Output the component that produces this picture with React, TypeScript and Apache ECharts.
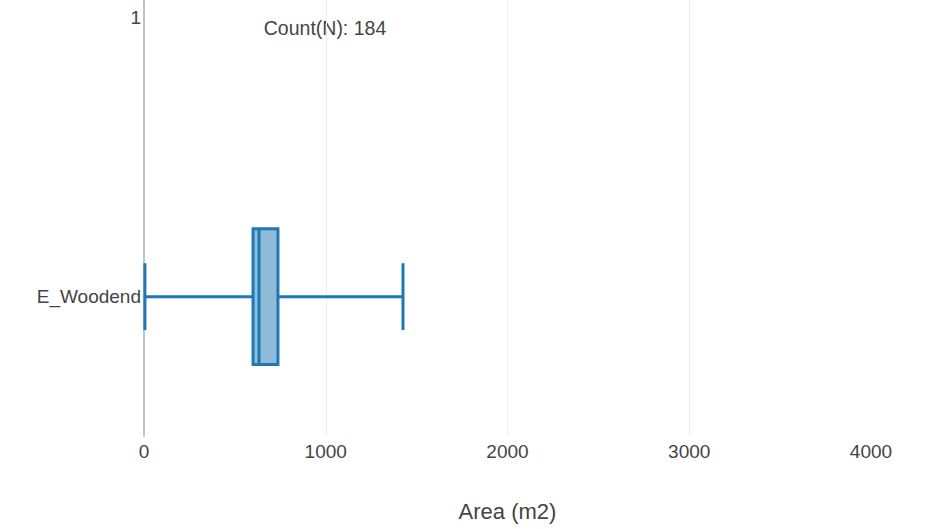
import React, { useEffect, useRef } from "react";
import * as echarts from "echarts";

const categories = ["E_Woodend", "1"];
// [min, Q1, median, Q3, max]
const boxStats = [[5, 600, 633, 737, 1425]];
const xTicks = [0, 1000, 2000, 3000, 4000];
const countLabel = "Count(N): 184";
const xTitle = "Area (m2)";

export default function App() {
  const ref = useRef<HTMLDivElement>(null);
  useEffect(() => {
    const chart = echarts.init(ref.current!, null, { renderer: "svg" });
    const stroke = "#1f77b4";
    const font = "Liberation Sans, Arial, sans-serif";
    chart.setOption({
      animation: false,
      backgroundColor: "#fff",
      textStyle: { fontFamily: font },
      grid: { left: 144, right: 60, top: 0, bottom: 93, containLabel: false, outerBoundsMode: "none" },
      xAxis: {
        type: "value",
        min: xTicks[0],
        max: xTicks[xTicks.length - 1],
        interval: 1000,
        name: xTitle,
        nameLocation: "middle",
        nameGap: 64,
        nameTextStyle: { fontSize: 22, color: "#444", fontFamily: font },
        axisLine: { show: false },
        axisTick: { show: false },
        axisLabel: { fontSize: 19, color: "#444", margin: 6, formatter: (v: number) => String(v) },
        splitLine: {
          show: true,
          lineStyle: { color: ["transparent", "#eeeeee", "#eeeeee", "#eeeeee", "transparent"], width: 1 },
        },
      },
      yAxis: {
        type: "value",
        min: -0.5,
        max: 1.0645,
        axisLine: { show: true, onZero: true, lineStyle: { color: "#c4c4c4", width: 2 } },
        axisTick: { show: false },
        axisLabel: {
          fontSize: 19,
          color: "#444",
          margin: 3,
          customValues: categories.map((_, i) => i),
          formatter: (v: number) => categories[Math.round(v)] ?? "",
        },
        splitLine: { show: false },
      },
      graphic: [
        {
          type: "text",
          x: 325,
          y: 28,
          style: {
            text: countLabel,
            fontSize: 19.5,
            fill: "#444",
            align: "center",
            verticalAlign: "middle",
            fontFamily: font,
          },
        },
      ],
      series: [
        {
          type: "custom",
          data: boxStats.map((s, i) => [i, ...s]),
          encode: { x: [1, 2, 3, 4, 5], y: 0 },
          renderItem: (params: any, api: any) => {
            const cat = api.value(0);
            const vals = [1, 2, 3, 4, 5].map((d) => api.value(d));
            const pts = vals.map((v) => api.coord([v, cat]));
            const band = Math.abs(api.size([0, 1])[1]);
            const boxH = band * 0.4875;
            const capH = band * 0.12;
            const cy = pts[0][1];
            const lw = 3;
            return {
              type: "group",
              children: [
                { type: "line", shape: { x1: pts[0][0], y1: cy, x2: pts[1][0], y2: cy }, style: { stroke, lineWidth: lw } },
                { type: "line", shape: { x1: pts[3][0], y1: cy, x2: pts[4][0], y2: cy }, style: { stroke, lineWidth: lw } },
                { type: "line", shape: { x1: pts[0][0], y1: cy - capH, x2: pts[0][0], y2: cy + capH }, style: { stroke, lineWidth: lw } },
                { type: "line", shape: { x1: pts[4][0], y1: cy - capH, x2: pts[4][0], y2: cy + capH }, style: { stroke, lineWidth: lw } },
                {
                  type: "rect",
                  shape: { x: pts[1][0], y: cy - boxH / 2, width: pts[3][0] - pts[1][0], height: boxH },
                  style: { fill: "rgba(31,119,180,0.5)", stroke, lineWidth: lw },
                },
                { type: "line", shape: { x1: pts[2][0], y1: cy - boxH / 2, x2: pts[2][0], y2: cy + boxH / 2 }, style: { stroke, lineWidth: lw } },
              ],
            };
          },
        },
      ],
    });
    return () => chart.dispose();
  }, []);
  return <div ref={ref} style={{ width: 931, height: 529, position: "absolute", left: 0, top: 0 }} />;
}
